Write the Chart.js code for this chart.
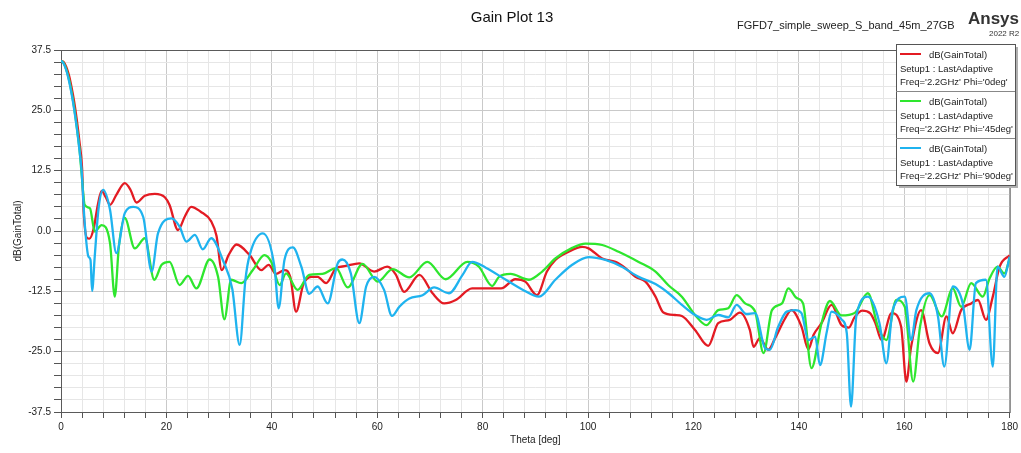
<!DOCTYPE html>
<html>
<head>
<meta charset="utf-8">
<title>Gain Plot 13</title>
<script src="https://cdn.jsdelivr.net/npm/chart.js@4.4.0/dist/chart.umd.min.js"></script>
<style>
  html, body { margin: 0; padding: 0; background: #fff; }
  #wrap { position: relative; width: 1021px; height: 453px; }
</style>
</head>
<body>
<div id="wrap"><canvas id="grafico" width="1021" height="453"></canvas></div>
<script>
// datos (Theta en grados, ganancia en dB)
const thetaRojo = [0, 0.5, 1, 1.5, 2, 2.5, 3, 3.5, 4, 4.3, 4.9, 5.4, 6.2, 7, 7.7, 8.5, 9.3, 10.5, 12.1, 13.2, 14.3, 15.9, 17.8, 19.7, 20.6, 22.2, 23.5, 24.7, 26.5, 28.5, 29.5, 30.5, 31.8, 33.3, 35.8, 38, 39.4, 40.8, 42.4, 43.5, 44.6, 46, 47.5, 48.7, 50.3, 52.2, 53.8, 56.6, 59.4, 61.9, 63.5, 65.1, 68, 70.5, 72.7, 74.9, 78, 80.6, 83.5, 86.2, 88.1, 90.3, 92.2, 93.8, 96.3, 98.9, 100.1, 102.7, 105.2, 107.1, 109, 110.9, 112.8, 114.3, 116.5, 117.8, 120.3, 122.8, 124.7, 126.9, 128.8, 130.7, 131.4, 132.6, 134.2, 135.5, 137.4, 138.6, 140.5, 141.8, 142.8, 144.3, 146.2, 148.1, 149.5, 150.5, 152, 153.5, 154.5, 155.7, 157.6, 159.4, 160.4, 161.3, 163.2, 164.8, 166.4, 168, 169.2, 170.8, 172.7, 174, 175.5, 176.8, 178.1, 180];
const gainRojo = [35.3, 35.0, 34.0, 32.3, 29.8, 26.8, 23.0, 18.5, 13.0, 4.0, -1.4, -1.6, 0.5, 5.5, 8.3, 7.0, 5.4, 7.5, 9.9, 8.5, 5.9, 7.3, 7.7, 7.0, 5.4, 0.2, 3.0, 5.0, 4.0, 2.0, -1.0, -8.1, -5.0, -2.8, -5.0, -8.1, -7.0, -8.9, -8.1, -9.5, -16.7, -11.0, -9.5, -9.5, -10.8, -7.7, -7.3, -6.7, -8.4, -7.4, -9.0, -12.6, -9.1, -12.9, -15.0, -14.3, -11.9, -11.9, -11.9, -10.0, -10.5, -13.3, -8.4, -6.0, -4.3, -3.3, -3.6, -5.7, -6.4, -7.7, -9.5, -10.5, -13.6, -16.9, -17.4, -17.6, -20.5, -23.8, -19.1, -18.4, -16.9, -20.5, -24.0, -22.2, -24.6, -22.2, -18.1, -16.4, -19.8, -24.5, -21.5, -19.1, -15.3, -19.5, -20.0, -18.0, -16.5, -17.0, -19.0, -22.6, -17.0, -19.8, -31.2, -24.0, -16.4, -23.3, -25.3, -17.7, -21.2, -16.4, -15.0, -14.3, -18.4, -13.6, -7.4, -5.0];

const thetaVerde = [0, 0.5, 1, 1.5, 2, 2.5, 3, 3.5, 3.9, 4.5, 5.5, 6.4, 7.7, 9.3, 10.2, 11, 12.1, 14, 15.9, 17.7, 19.1, 20.6, 22.5, 24.1, 25.7, 28.2, 29.8, 31, 32.3, 34.2, 36.4, 38.6, 39.9, 41.5, 42.7, 44.9, 47.1, 49.6, 52.2, 54.4, 57.2, 60.1, 62.9, 66.1, 69.5, 73, 77.1, 79.3, 81.8, 83.1, 85.3, 88.8, 91.3, 93.8, 97, 99.5, 102.7, 105.8, 109.6, 112.8, 115.3, 117.8, 120.3, 122.5, 124.7, 126.6, 128.2, 129.8, 131.7, 133.3, 134.9, 136.8, 138, 139.6, 140.8, 142.4, 144.3, 145.9, 148.1, 150.6, 153.1, 155, 156.6, 158.5, 160.1, 161.7, 163, 164.8, 167.1, 169.2, 170.8, 172.7, 174.9, 176.2, 177.7, 179, 180];
const gainVerde = [35.3, 34.8, 33.5, 31.5, 28.8, 25.5, 21.5, 17.0, 12.0, 5.4, 4.7, -0.1, 1.2, -2.5, -13.6, -3.0, 2.7, -3.6, -1.5, -10.1, -7.0, -6.4, -11.2, -9.3, -11.9, -5.9, -9.5, -18.3, -10.1, -10.8, -8.1, -5.0, -6.4, -11.2, -8.8, -12.2, -9.1, -8.9, -7.7, -11.7, -6.8, -10.5, -7.9, -9.6, -6.4, -10.0, -6.4, -7.4, -11.4, -9.5, -8.9, -10.1, -8.4, -5.7, -3.5, -2.6, -2.9, -4.3, -6.4, -8.4, -11.3, -13.6, -17.4, -19.5, -16.4, -16.0, -13.3, -15.0, -16.7, -25.3, -16.4, -15.0, -11.9, -13.9, -15.0, -28.4, -19.1, -14.5, -17.5, -17.0, -12.9, -19.8, -22.6, -14.3, -15.7, -31.2, -19.8, -13.3, -17.7, -11.9, -15.7, -10.8, -13.6, -9.8, -7.4, -8.8, -5.7];

const thetaAzul = [0, 0.5, 1, 1.5, 2, 2.5, 3, 3.5, 3.9, 4.5, 5.2, 5.6, 5.9, 6.4, 7.1, 8.0, 9.3, 10.5, 12.1, 13.7, 15.6, 17.2, 18.4, 21, 22.5, 23.8, 25.4, 26.9, 28.5, 30.7, 32.5, 33.9, 35.0, 35.8, 38.3, 40.5, 41.3, 42.4, 44, 45.6, 47.1, 48.7, 50.6, 52.5, 53.4, 55, 56.6, 57.9, 59.4, 61.3, 62.8, 64.2, 66.1, 68.6, 70.8, 73.6, 76.2, 78, 80.6, 84.4, 87.5, 90.7, 93.8, 97, 100.1, 103.3, 106.4, 109.6, 112.8, 115.3, 117.8, 120.3, 122.5, 124.7, 126.6, 128.2, 130, 131.7, 133.6, 134.5, 136.1, 137.7, 139.3, 140.5, 141.8, 143.1, 144, 145.3, 146.2, 148.1, 149.1, 149.9, 150.9, 153.1, 155.3, 156.6, 157.8, 160.1, 161.3, 162.3, 164.8, 166.4, 167.6, 169.2, 171.1, 172.4, 173.6, 175.5, 176.8, 177.7, 179, 180];
const gainAzul = [35.3, 34.7, 33.3, 31.2, 28.5, 25.2, 21.3, 16.8, 12.6, 1.6, -5.3, -6.0, -12.4, -5.3, 4.4, 8.5, 4.4, -4.6, 3.7, 5.0, 2.9, -8.4, -0.5, 2.6, 0.9, -2.2, -0.8, -3.8, -1.5, -6.0, -12.0, -23.6, -10.0, -5.0, -0.5, -7.4, -16.0, -6.0, -3.4, -7.4, -13.0, -11.5, -15.0, -6.7, -5.9, -8.8, -19.1, -11.5, -9.5, -12.2, -17.6, -15.7, -14.0, -13.3, -11.7, -12.9, -9.1, -6.4, -7.6, -10.1, -12.1, -13.6, -10.1, -7.0, -5.4, -6.0, -7.4, -9.5, -11.0, -12.9, -15.3, -17.4, -18.4, -17.4, -17.9, -15.3, -17.2, -17.0, -24.3, -24.6, -19.8, -16.7, -16.4, -17.0, -22.6, -21.9, -27.8, -20.9, -16.7, -18.3, -21.2, -36.4, -17.7, -13.6, -19.1, -27.4, -16.4, -13.6, -22.6, -16.4, -12.9, -17.7, -28.1, -11.5, -15.0, -24.6, -10.8, -10.1, -28.1, -7.4, -9.5, -5.3];

// leyenda
const nombreSerie = "dB(GainTotal)";
const setupTexto = "Setup1 : LastAdaptive";
const freqTextos = ["Freq='2.2GHz' Phi='0deg'", "Freq='2.2GHz' Phi='45deg'", "Freq='2.2GHz' Phi='90deg'"];
const colores = ["#e31b23", "#2ee62e", "#1fb3ef"];

const FUENTE = "'Liberation Sans', Arial, sans-serif";

function puntos(xs, ys) {
  return xs.map((x, i) => ({ x: x, y: ys[i] }));
}

const series = [puntos(thetaRojo, gainRojo), puntos(thetaVerde, gainVerde), puntos(thetaAzul, gainAzul)];

// titulos, marco y leyenda
const extras = {
  id: "extras",
  beforeDatasetsDraw(chart) {
    const { ctx, chartArea: a } = chart;
    ctx.save();
    ctx.strokeStyle = "#5a5a5a";
    ctx.lineWidth = 1;
    ctx.strokeRect(a.left + 0.5, a.top + 0.5, a.right - a.left, a.bottom - a.top);
    ctx.restore();
  },
  afterDraw(chart) {
    const ctx = chart.ctx;
    ctx.save();
    ctx.fillStyle = "#111";
    ctx.textBaseline = "middle";

    ctx.font = "15px " + FUENTE;
    ctx.textAlign = "center";
    ctx.fillText("Gain Plot 13", 512, 18);

    ctx.font = "11px " + FUENTE;
    ctx.textAlign = "left";
    ctx.fillStyle = "#222";
    ctx.fillText("FGFD7_simple_sweep_S_band_45m_27GB", 737, 26, 226);

    ctx.font = "bold 17px " + FUENTE;
    ctx.fillStyle = "#333";
    ctx.fillText("Ansys", 968, 19);
    ctx.font = "8px " + FUENTE;
    ctx.fillText("2022 R2", 989, 34);

    // caja de leyenda
    const lx = 896, ly = 44, lw = 119, lh = 141;
    ctx.fillStyle = "#b0b0b0";
    ctx.fillRect(lx + 3, ly + 3, lw, lh);
    ctx.fillStyle = "#fff";
    ctx.fillRect(lx, ly, lw, lh);
    ctx.strokeStyle = "#555";
    ctx.lineWidth = 1;
    ctx.strokeRect(lx + 0.5, ly + 0.5, lw, lh);

    ctx.font = "9.5px " + FUENTE;
    colores.forEach((c, i) => {
      const y0 = ly + i * 47;
      if (i > 0) {
        ctx.strokeStyle = "#888";
        ctx.beginPath();
        ctx.moveTo(lx, y0 + 0.5);
        ctx.lineTo(lx + lw, y0 + 0.5);
        ctx.stroke();
      }
      ctx.strokeStyle = c;
      ctx.lineWidth = 2;
      ctx.beginPath();
      ctx.moveTo(900, y0 + 10);
      ctx.lineTo(921, y0 + 10);
      ctx.stroke();
      ctx.lineWidth = 1;
      ctx.fillStyle = "#222";
      ctx.textAlign = "left";
      ctx.fillText(nombreSerie, 929, y0 + 11);
      ctx.fillText(setupTexto, 900, y0 + 25, 112);
      ctx.fillText(freqTextos[i], 900, y0 + 38, 113);
    });
    ctx.restore();
  },
};

new Chart(document.getElementById("grafico"), {
  type: "line",
  data: {
    datasets: colores.map((c, i) => ({
      label: nombreSerie + " " + freqTextos[i],
      data: series[i],
      borderColor: c,
      backgroundColor: c,
      borderWidth: 2.3,
      pointRadius: 0,
      cubicInterpolationMode: "monotone",
      fill: false,
      order: 3 - i,
    })),
  },
  options: {
    responsive: false,
    devicePixelRatio: 1,
    animation: false,
    layout: { padding: { top: 50, right: 9, left: 0, bottom: 0 } },
    plugins: { legend: { display: false }, title: { display: false }, tooltip: { enabled: false } },
    scales: {
      x: {
        type: "linear",
        min: 0,
        max: 180,
        afterFit: (s) => { s.height = 41; },
        border: { display: false },
        grid: {
          color: (c) => (c.tick && c.tick.value % 20 === 0 ? "#c9c9c9" : "#e6e6e6"),
          tickColor: "#555",
          tickLength: 6,
        },
        ticks: {
          stepSize: 4,
          autoSkip: false,
          maxRotation: 0,
          padding: 3,
          color: "#222",
          font: { family: FUENTE, size: 10 },
          callback: (v) => (v % 20 === 0 ? String(v) : ""),
        },
        title: {
          display: true,
          text: "Theta [deg]",
          color: "#222",
          font: { family: FUENTE, size: 10 },
          padding: { top: 7, bottom: 7 },
        },
      },
      y: {
        min: -37.5,
        max: 37.5,
        afterFit: (s) => { s.width = 61; },
        border: { display: false },
        grid: {
          color: (c) => (c.tick && Math.abs(c.tick.value % 12.5) < 1e-6 ? "#c9c9c9" : "#e6e6e6"),
          tickColor: "#555",
          tickLength: 7,
        },
        ticks: {
          stepSize: 2.5,
          autoSkip: false,
          padding: 3,
          color: "#222",
          font: { family: FUENTE, size: 10 },
          callback: (v) => (Math.abs(v % 12.5) < 1e-6 ? v.toFixed(1) : ""),
        },
        title: {
          display: true,
          text: "dB(GainTotal)",
          color: "#222",
          font: { family: FUENTE, size: 10 },
          padding: { top: 12, bottom: 12 },
        },
      },
    },
  },
  plugins: [extras],
});
</script>
</body>
</html>
